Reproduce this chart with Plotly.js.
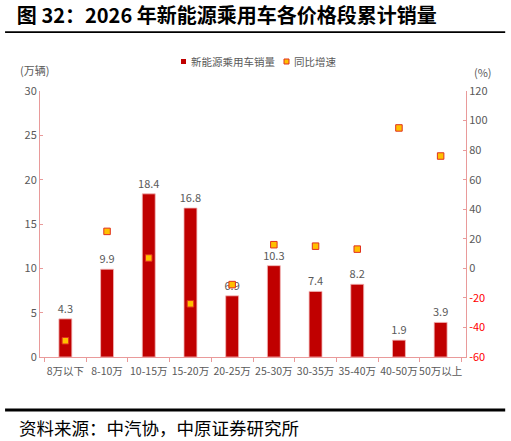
<!DOCTYPE html>
<html>
<head>
<meta charset="utf-8">
<script src="https://cdn.plot.ly/plotly-3.0.1.min.js"></script>
<style>
  html, body { margin: 0; padding: 0; background: #fff; }
  #chart { width: 511px; height: 441px; }
</style>
</head>
<body>
<div id="chart"></div>
<script>
// 价格段
const categories = ['8万以下', '8-10万', '10-15万', '15-20万', '20-25万',
                    '25-30万', '30-35万', '35-40万', '40-50万', '50万以上'];
// 新能源乘用车销量（万辆）
const sales = [4.3, 9.9, 18.4, 16.8, 6.9, 10.3, 7.4, 8.2, 1.9, 3.9];
// 同比增速（%）
const growth = [-49, 25, 7, -24, -11, 16, 15, 13, 95, 76];
// 右轴刻度
const rightTicks = [-60, -40, -20, 0, 20, 40, 60, 80, 100, 120];

const FONT = '"Noto Sans CJK SC", "Noto Sans", sans-serif';
const GRAY = '#595959';
const AXIS = '#E99A9A';

const barTrace = {
    type: 'bar',
    name: '新能源乘用车销量',
    x: categories,
    y: sales,
    width: 0.31,
    marker: { color: '#C00000', line: { color: '#F2B8B8', width: 0.8 } },
    text: sales.map(v => v.toFixed(1)),
    textposition: 'outside',
    constraintext: 'none',
    cliponaxis: false,
    textfont: { family: FONT, size: 11, color: GRAY },
    hoverinfo: 'x+y'
};

const growthTrace = {
    type: 'scatter',
    mode: 'markers',
    name: '同比增速',
    x: categories,
    y: growth,
    yaxis: 'y2',
    marker: { symbol: 'square', size: 6.5, color: '#FFC000', line: { color: '#E0301E', width: 1 } }
};

// legend drawn by hand: small squares + labels, as in the source
const legendShapes = [
    { type: 'rect', xref: 'paper', yref: 'paper',
      x0: (181 - 40) / 426, x1: (186 - 40) / 426, y0: (357 - 64) / 266, y1: (357 - 59) / 266,
      fillcolor: '#C00000', line: { width: 0 } },
    { type: 'rect', xref: 'paper', yref: 'paper',
      x0: (284 - 40) / 426, x1: (289 - 40) / 426, y0: (357 - 64) / 266, y1: (357 - 59) / 266,
      fillcolor: '#FFC000', line: { color: '#E0301E', width: 1 } }
];

const layout = {
    width: 511,
    height: 441,
    margin: { l: 40, r: 45, t: 91, b: 84 },
    paper_bgcolor: '#fff',
    plot_bgcolor: '#fff',
    font: { family: FONT, size: 11, color: GRAY },
    title: {
        text: '<b>图 32：2026 年新能源乘用车各价格段累计销量</b>',
        x: 0.033, xanchor: 'left', xref: 'container',
        y: 0.963, yanchor: 'middle', yref: 'container',
        font: { family: FONT, size: 20, color: '#000' }
    },
    showlegend: false,
    bargap: 0.69,
    xaxis: {
        type: 'category',
        showline: true, linecolor: AXIS, linewidth: 1,
        ticks: 'outside', tickson: 'boundaries', ticklen: 4, tickcolor: AXIS,
        tickangle: 0, ticklabelstandoff: 4,
        tickfont: { family: FONT, size: 10.5, color: GRAY },
        showgrid: false, zeroline: false, fixedrange: true
    },
    yaxis: {
        range: [0, 30], dtick: 5,
        showline: true, linecolor: AXIS, linewidth: 1,
        ticks: 'inside', ticklen: 3, tickcolor: AXIS,
        tickfont: { family: FONT, size: 11, color: GRAY },
        showgrid: false, zeroline: false, fixedrange: true
    },
    yaxis2: {
        overlaying: 'y', side: 'right',
        range: [-60, 120],
        tickvals: rightTicks,
        ticktext: rightTicks.map(v => v < 0 ? '<span style="color:#FF0000">' + v + '</span>' : String(v)),
        showline: true, linecolor: AXIS, linewidth: 1,
        ticks: 'inside', ticklen: 3, tickcolor: AXIS,
        tickfont: { family: FONT, size: 11, color: GRAY },
        showgrid: false, zeroline: false, fixedrange: true
    },
    shapes: [
        { type: 'line', xref: 'paper', yref: 'paper',
          x0: -0.082, x1: 1.092, y0: 1.221, y1: 1.221,
          line: { color: '#000', width: 1.8 } },
        { type: 'line', xref: 'paper', yref: 'paper',
          x0: -0.082, x1: 1.092, y0: -0.199, y1: -0.199,
          line: { color: '#000', width: 3 } }
    ].concat(legendShapes),
    annotations: [
        { text: '新能源乘用车销量', xref: 'paper', yref: 'paper',
          x: (189 - 40) / 426, y: (357 - 62) / 266, xanchor: 'left', yanchor: 'middle',
          showarrow: false, font: { family: FONT, size: 10.5, color: GRAY } },
        { text: '同比增速', xref: 'paper', yref: 'paper',
          x: (292 - 40) / 426, y: (357 - 62) / 266, xanchor: 'left', yanchor: 'middle',
          showarrow: false, font: { family: FONT, size: 10.5, color: GRAY } },
        { text: '(万辆)', xref: 'paper', yref: 'paper', x: (34 - 40) / 426, y: (357 - 70) / 266,
          xanchor: 'center', yanchor: 'middle', showarrow: false,
          font: { family: FONT, size: 11, color: GRAY } },
        { text: '(%)', xref: 'paper', yref: 'paper', x: (483 - 40) / 426, y: (357 - 72) / 266,
          xanchor: 'center', yanchor: 'middle', showarrow: false,
          font: { family: FONT, size: 11, color: GRAY } },
        { text: '资料来源：中汽协，中原证券研究所', xref: 'paper', yref: 'paper',
          x: (17 - 40) / 426, y: (357 - 427) / 266, xanchor: 'left', yanchor: 'middle', showarrow: false,
          font: { family: FONT, size: 17.5, color: '#000' } }
    ]
};

Plotly.newPlot('chart', [barTrace, growthTrace], layout, { displayModeBar: false, staticPlot: true });
</script>
</body>
</html>
